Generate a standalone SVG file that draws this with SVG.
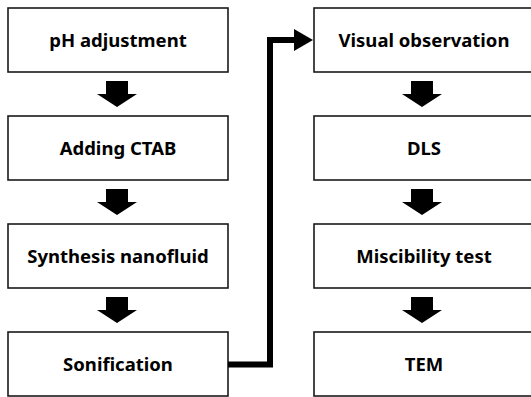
<svg xmlns="http://www.w3.org/2000/svg" width="531" height="397" viewBox="0 0 531 397">
  <defs>
    <style>
      .box { fill: #ffffff; stroke: #1a1a1a; stroke-width: 1.6; }
      .label { font-family: "Noto Sans", "Open Sans", sans-serif; font-weight: bold; font-size: 18.5px; fill: #000000; text-anchor: middle; }
      .step { fill: #000000; }
      .link { fill: none; stroke: #000000; stroke-width: 6; stroke-linejoin: miter; }
    </style>
    <!-- block arrow pointing down, origin at its centre top -->
    <polygon id="down" class="step" points="-11,0 11,0 11,13 20,13 0,26 -20,13 -11,13"/>
  </defs>

  <rect width="531" height="397" fill="#ffffff"/>

  <!-- left column -->
  <g id="ph-adjustment">
    <rect class="box" x="8" y="8" width="220" height="64"/>
    <text class="label" x="118" y="47">pH adjustment</text>
  </g>
  <g id="adding-ctab">
    <rect class="box" x="8" y="116" width="220" height="64"/>
    <text class="label" x="118" y="155">Adding CTAB</text>
  </g>
  <g id="synthesis-nanofluid">
    <rect class="box" x="8" y="224" width="220" height="64"/>
    <text class="label" x="118" y="263">Synthesis nanofluid</text>
  </g>
  <g id="sonification">
    <rect class="box" x="8" y="332" width="220" height="64"/>
    <text class="label" x="118" y="371">Sonification</text>
  </g>

  <!-- right column -->
  <g id="visual-observation">
    <rect class="box" x="314" y="8" width="222" height="64"/>
    <text class="label" x="424" y="47">Visual observation</text>
  </g>
  <g id="dls">
    <rect class="box" x="314" y="116" width="222" height="64"/>
    <text class="label" x="424" y="155">DLS</text>
  </g>
  <g id="miscibility-test">
    <rect class="box" x="314" y="224" width="222" height="64"/>
    <text class="label" x="424" y="263">Miscibility test</text>
  </g>
  <g id="tem">
    <rect class="box" x="314" y="332" width="222" height="64"/>
    <text class="label" x="424" y="371">TEM</text>
  </g>

  <!-- connectors -->
  <g id="connectors">
    <use href="#down" x="117" y="81"/>
    <use href="#down" x="117" y="189"/>
    <use href="#down" x="117" y="297"/>
    <use href="#down" x="422" y="81"/>
    <use href="#down" x="422" y="189"/>
    <use href="#down" x="422" y="297"/>
    <polyline class="link" points="228,364.5 270,364.5 270,40 297,40"/>
    <polygon class="step" points="294,29 313,40 294,51"/>
  </g>
</svg>
